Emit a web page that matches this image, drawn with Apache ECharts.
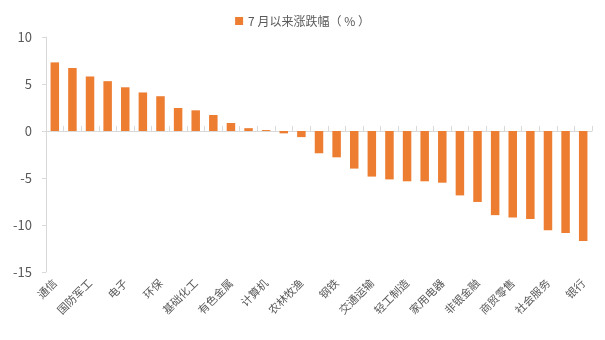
<!DOCTYPE html>
<html>
<head>
<meta charset="utf-8">
<script src="https://cdn.jsdelivr.net/npm/echarts@6/dist/echarts.min.js"></script>
<style>html,body{margin:0;padding:0;background:#fff}#c{width:605px;height:340px}</style>
</head>
<body>
<div id="c"></div>
<script>
const categories = ['通信','传媒','国防军工','机械设备','电子','电力设备','环保','汽车','基础化工','煤炭','有色金属','石油石化','计算机','医药生物','农林牧渔','公用事业','钢铁','建筑材料','交通运输','建筑装饰','轻工制造','纺织服饰','家用电器','综合','非银金融','房地产','商贸零售','食品饮料','社会服务','美容护理','银行'];
const seriesName = '7 月以来涨跌幅（ % ）';
const values = [7.3, 6.7, 5.8, 5.3, 4.65, 4.1, 3.7, 2.45, 2.2, 1.7, 0.85, 0.3, 0.1, -0.25, -0.65, -2.37, -2.8, -4.0, -4.85, -5.15, -5.35, -5.35, -5.5, -6.85, -7.55, -8.95, -9.2, -9.37, -10.55, -10.85, -11.7];
const yTicks = {min: -15, max: 10, interval: 5};

const chart = echarts.init(document.getElementById('c'));
chart.setOption({
  animation: false,
  textStyle: {fontFamily: '"Noto Sans CJK SC", "DejaVu Sans", sans-serif'},
  legend: {
    top: 10, left: 'center',
    itemWidth: 8, itemHeight: 8, icon: 'rect', itemGap: 4,
    textStyle: {color: '#595959', fontSize: 12},
    data: [seriesName]
  },
  grid: {left: 46, right: 13, top: 37, bottom: 68, containLabel: false, outerBoundsMode: 'none'},
  xAxis: [{
    type: 'category',
    data: categories,
    axisLine: {onZero: true, lineStyle: {color: '#d9d9d9'}},
    axisTick: {show: true, inside: true, interval: 0, length: 5, lineStyle: {color: '#d9d9d9'}},
    axisLabel: {show: false}
  }, {
    type: 'category',
    data: categories,
    position: 'bottom',
    axisLine: {show: false, onZero: false},
    axisTick: {show: false},
    axisLabel: {interval: 1, rotate: 45, color: '#595959', fontSize: 11, margin: 9, hideOverlap: false}
  }],
  yAxis: {
    type: 'value',
    min: yTicks.min, max: yTicks.max, interval: yTicks.interval,
    axisLine: {show: true, lineStyle: {color: '#d9d9d9'}},
    axisTick: {show: true, length: 4, lineStyle: {color: '#d9d9d9'}},
    splitLine: {show: false},
    axisLabel: {color: '#595959', fontSize: 13, margin: 14}
  },
  series: [{
    name: seriesName,
    type: 'bar',
    xAxisIndex: 0,
    data: values,
    barWidth: 8.5,
    itemStyle: {color: '#ED7D31'}
  }]
});
</script>
</body>
</html>
